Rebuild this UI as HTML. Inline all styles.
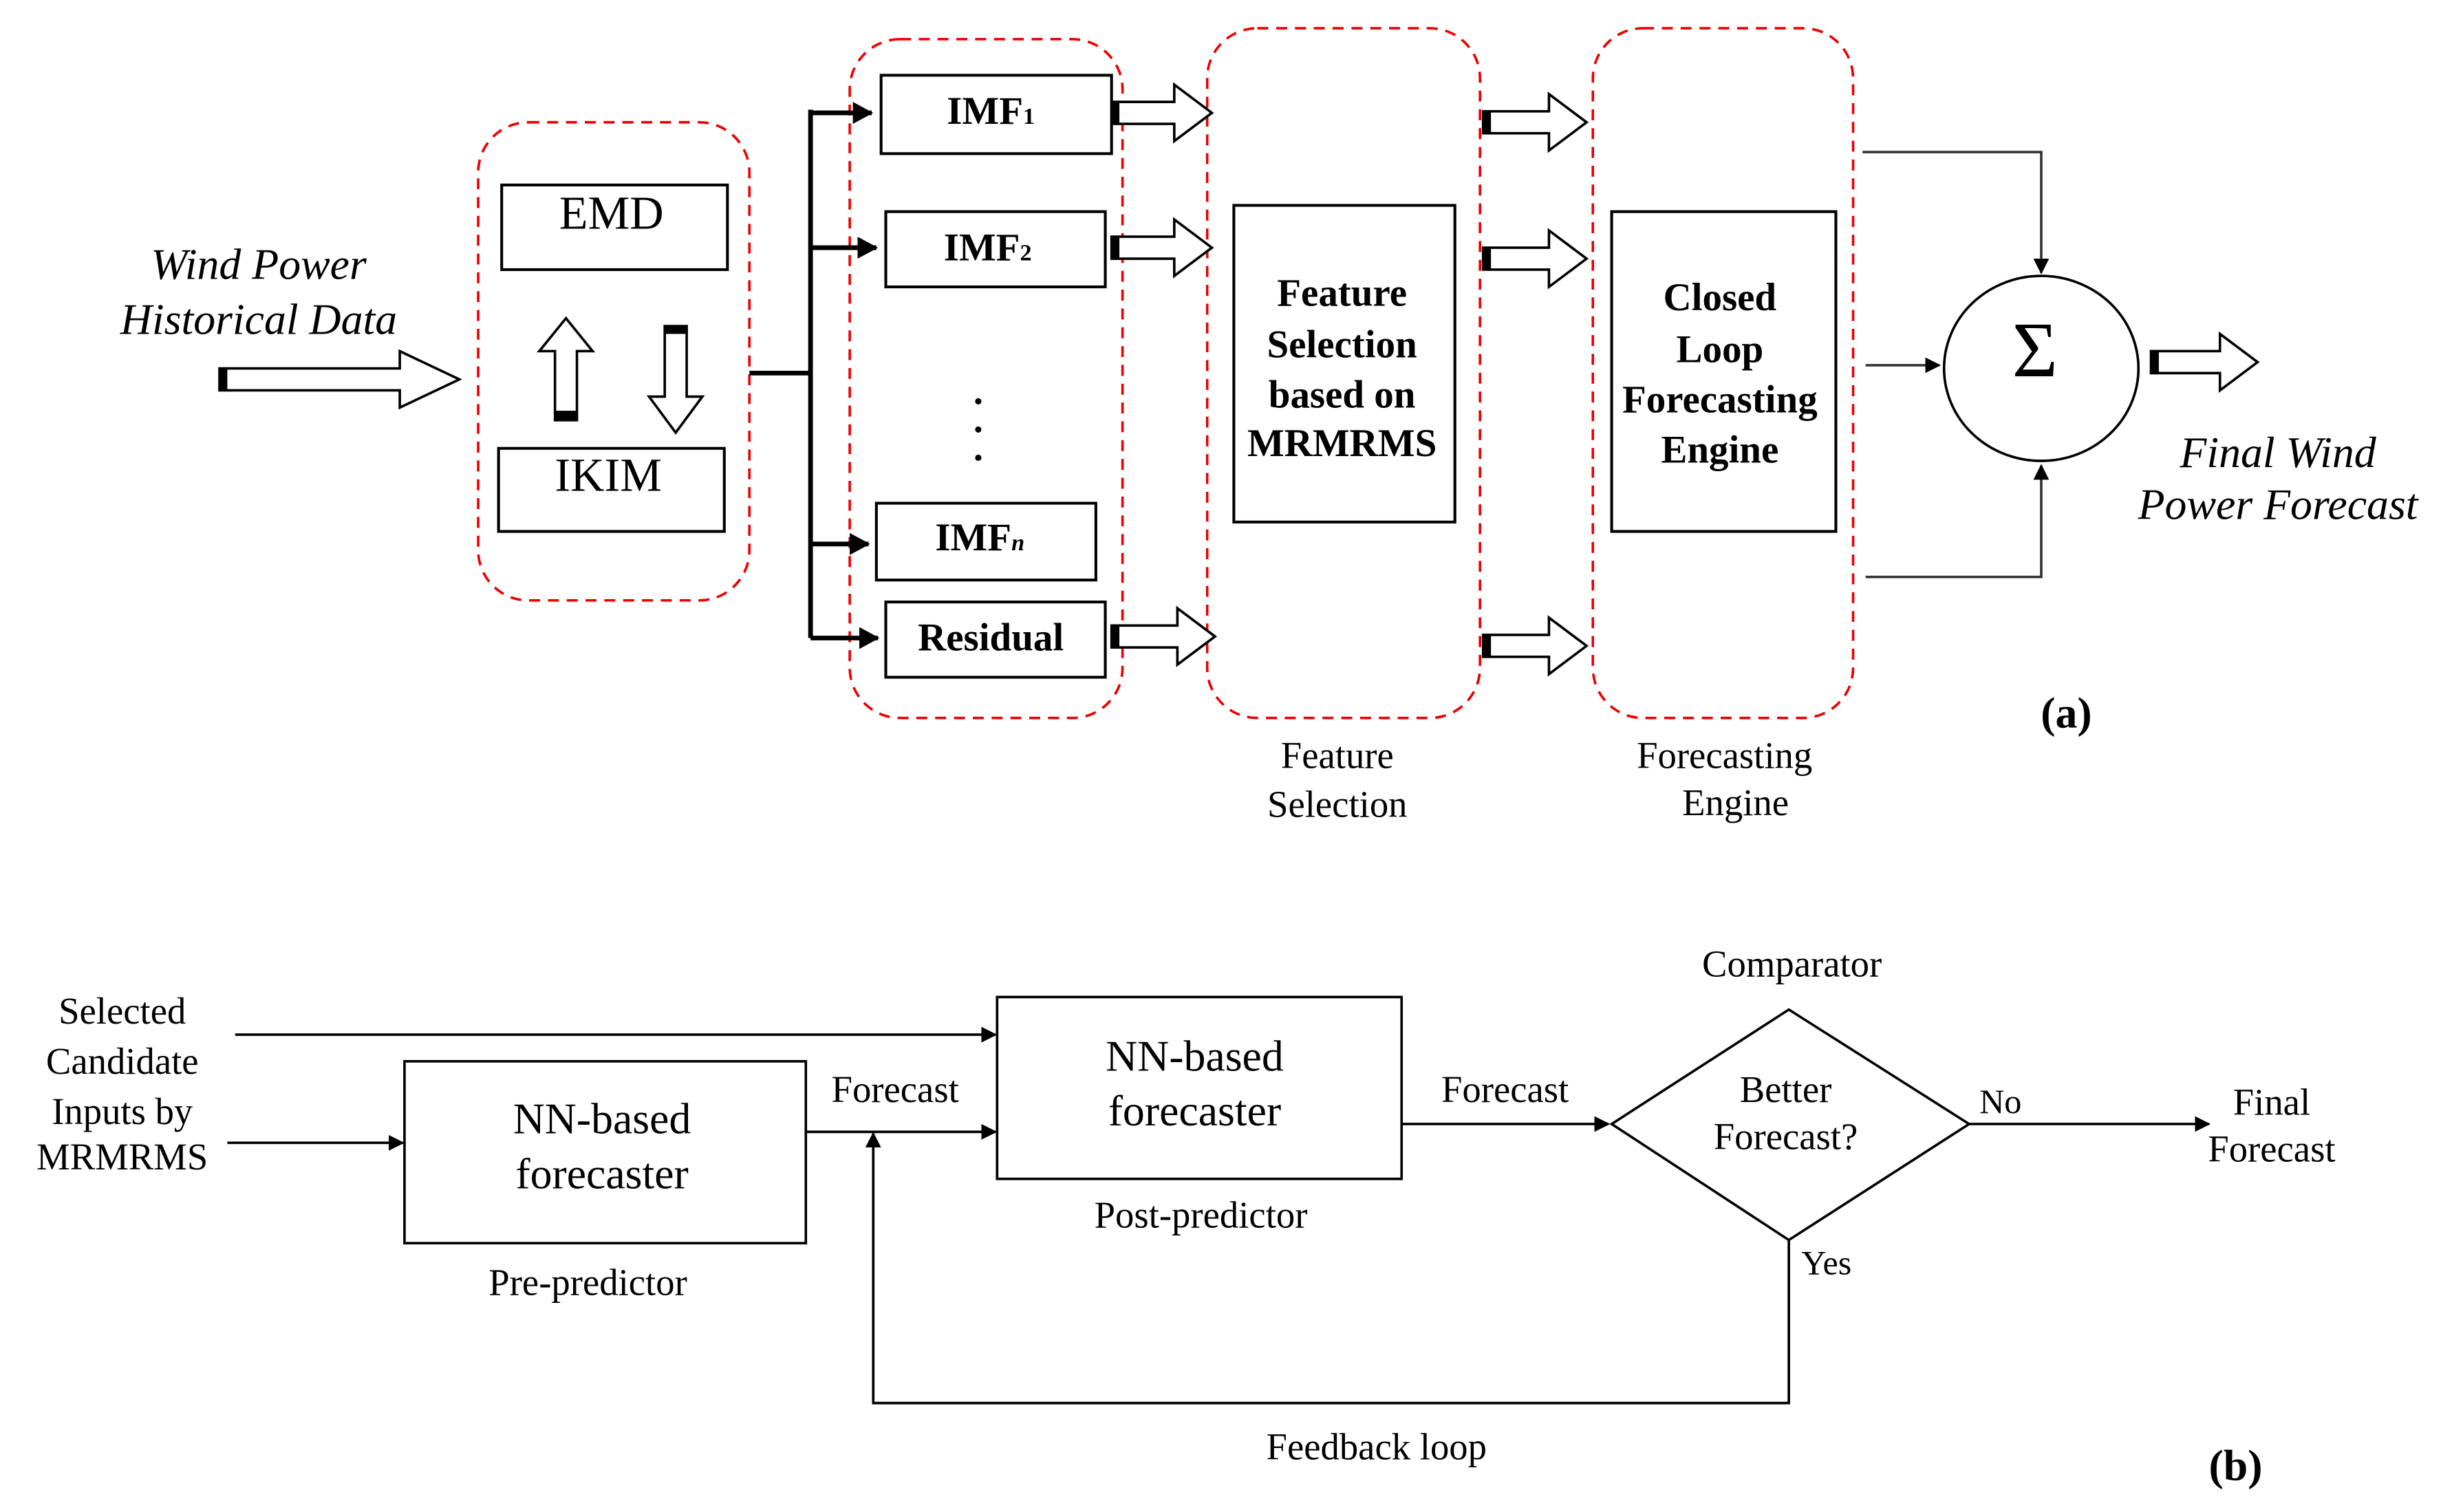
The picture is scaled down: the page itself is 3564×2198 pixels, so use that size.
<!DOCTYPE html>
<html><head><meta charset="utf-8"><style>html,body{margin:0;padding:0;background:#fff}svg{display:block}</style></head><body>
<svg width="3564" height="2198" viewBox="0 0 1564 964.5" preserveAspectRatio="none" xmlns="http://www.w3.org/2000/svg" font-family="Liberation Serif, serif">
<defs>
<marker id="ah" markerWidth="10" markerHeight="10" refX="9" refY="5" orient="auto" markerUnits="userSpaceOnUse"><path d="M0,0 L10,5 L0,10 z" fill="#000"/></marker>
<marker id="ah2" markerWidth="14" markerHeight="14" refX="12" refY="7" orient="auto" markerUnits="userSpaceOnUse"><path d="M0,0 L13,7 L0,14 z" fill="#000"/></marker>
</defs>
<g fill="none" stroke="#e00" stroke-width="1.6" stroke-dasharray="7,5">
<rect x="305" y="78" width="173" height="305" rx="32"/>
<rect x="542" y="25" width="174" height="433" rx="32"/>
<rect x="770" y="18" width="174" height="440" rx="32"/>
<rect x="1016" y="18" width="166" height="440" rx="32"/>
</g>
<g fill="#fff" stroke="#000" stroke-width="1.6">
<path d="M140,235 h115 v-11 l38,18 l-38,18 v-11 h-115 z"/>
<path d="M709,65 h40 v-11 l24,18 l-24,18 v-11 h-40 z"/>
<path d="M709,151 h40 v-11 l24,18 l-24,18 v-11 h-40 z"/>
<path d="M709,399 h42 v-11 l24,18 l-24,18 v-11 h-42 z"/>
<path d="M946,71 h42 v-11 l24,18 l-24,18 v-11 h-42 z"/>
<path d="M946,158 h42 v-11 l24,18 l-24,18 v-11 h-42 z"/>
<path d="M946,405 h42 v-11 l24,18 l-24,18 v-11 h-42 z"/>
<path d="M1372,224 h44 v-11 l24,18 l-24,18 v-11 h-44 z"/>
<path d="M354,268 v-44 h-10 l17,-21 l17,21 h-10 v44 z"/>
<path d="M424,208 v45 h-10 l17,23 l17,-23 h-10 v-45 z"/>
</g>
<g fill="#000">
<rect x="140" y="235" width="5" height="14"/><rect x="709" y="65" width="5" height="14"/><rect x="709" y="151" width="5" height="14"/><rect x="709" y="399" width="5" height="14"/>
<rect x="946" y="71" width="5" height="14"/><rect x="946" y="158" width="5" height="14"/><rect x="946" y="405" width="5" height="14"/><rect x="1372" y="224" width="5" height="14"/>
<rect x="354" y="262" width="14" height="6"/><rect x="424" y="208" width="14" height="5"/>
<circle cx="624" cy="256" r="2"/><circle cx="624" cy="274" r="2"/><circle cx="624" cy="292" r="2"/>
</g>
<g fill="#fff" stroke="#000" stroke-width="1.8">
<rect x="320" y="118" width="144" height="54"/><rect x="318" y="286" width="144" height="53"/>
<rect x="562" y="48" width="147" height="50"/><rect x="565" y="135" width="140" height="48"/>
<rect x="559" y="321" width="140" height="49"/><rect x="565" y="384" width="140" height="48"/>
<rect x="787" y="131" width="141" height="202"/><rect x="1028" y="135" width="143" height="204"/>
</g>
<g stroke="#000" stroke-width="3" fill="none">
<path d="M478,238 H517 M517,70 V407"/>
<path d="M517,72 H556" marker-end="url(#ah2)"/><path d="M517,158 H559" marker-end="url(#ah2)"/>
<path d="M517,347 H554" marker-end="url(#ah2)"/><path d="M517,407 H560" marker-end="url(#ah2)"/>
</g>
<g stroke="#333" stroke-width="1.6" fill="none">
<path d="M1188,97 H1302 V174" marker-end="url(#ah)"/>
<path d="M1190,233 H1237" marker-end="url(#ah)"/>
<path d="M1190,368 H1302 V297" marker-end="url(#ah)"/>
</g>
<ellipse cx="1302" cy="235" rx="62" ry="59" fill="none" stroke="#000" stroke-width="1.6"/>
<g text-anchor="middle" fill="#000">
<text x="165" y="178" font-size="28" font-style="italic">Wind Power</text>
<text x="165" y="213" font-size="28" font-style="italic">Historical Data</text>
<text x="390" y="146" font-size="30">EMD</text>
<text x="388" y="313" font-size="30">IKIM</text>
<g font-weight="bold" font-size="25">
<text x="632" y="79">IMF<tspan font-size="15">1</tspan></text>
<text x="630" y="166">IMF<tspan font-size="15">2</tspan></text>
<text x="625" y="351">IMF<tspan font-size="15" font-style="italic">n</tspan></text>
<text x="632" y="415">Residual</text>
<text x="856" y="195">Feature</text><text x="856" y="228">Selection</text><text x="856" y="260">based on</text><text x="856" y="291">MRMRMS</text>
<text x="1097" y="198">Closed</text><text x="1097" y="231">Loop</text><text x="1097" y="263">Forecasting</text><text x="1097" y="295">Engine</text>
</g>
<text x="1298" y="240" font-size="50">Σ</text>
<text x="1453" y="298" font-size="28" font-style="italic">Final Wind</text>
<text x="1453" y="331" font-size="28" font-style="italic">Power Forecast</text>
<text x="1318" y="464" font-size="28" font-weight="bold">(a)</text>
<text x="853" y="490" font-size="24">Feature</text><text x="853" y="521" font-size="24">Selection</text>
<text x="1100" y="490" font-size="24">Forecasting</text><text x="1107" y="520" font-size="24">Engine</text>
</g>
<g stroke="#000" stroke-width="1.6" fill="none">
<path d="M150,660 H635" marker-end="url(#ah)"/>
<path d="M145,729 H257" marker-end="url(#ah)"/>
<rect x="258" y="677" width="256" height="116"/>
<path d="M514,722 H635" marker-end="url(#ah)"/>
<rect x="636" y="636" width="258" height="116"/>
<path d="M894,717 H1026" marker-end="url(#ah)"/>
<path d="M1141,644 L1256,717 L1141,791 L1028,717 Z"/>
<path d="M1256,717 H1409" marker-end="url(#ah)"/>
<path d="M1141,791 V895 H557 V723" marker-end="url(#ah)"/>
</g>
<g text-anchor="middle" fill="#000" font-size="24">
<text x="78" y="653">Selected</text><text x="78" y="685">Candidate</text><text x="78" y="717">Inputs by</text><text x="78" y="746">MRMRMS</text>
<text x="384" y="723" font-size="28">NN-based</text><text x="384" y="758" font-size="28">forecaster</text>
<text x="375" y="826">Pre-predictor</text>
<text x="571" y="703">Forecast</text>
<text x="762" y="683" font-size="28">NN-based</text><text x="762" y="718" font-size="28">forecaster</text>
<text x="766" y="783">Post-predictor</text>
<text x="960" y="703">Forecast</text>
<text x="1143" y="623">Comparator</text>
<text x="1139" y="703">Better</text><text x="1139" y="733">Forecast?</text>
<text x="1276" y="710" font-size="22">No</text>
<text x="1449" y="711">Final</text><text x="1449" y="741">Forecast</text>
<text x="1165" y="813" font-size="22">Yes</text>
<text x="878" y="931">Feedback loop</text>
<text x="1426" y="944" font-size="28" font-weight="bold">(b)</text>
</g>
</svg>
</body></html>
